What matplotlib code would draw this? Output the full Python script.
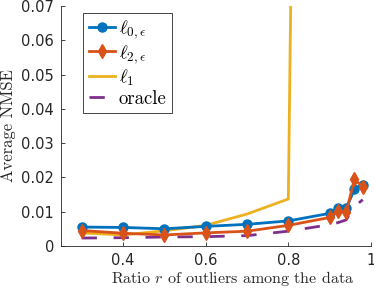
import matplotlib
matplotlib.use("Agg")
import matplotlib.pyplot as plt

plt.rcParams['mathtext.fontset'] = 'cm'
plt.rcParams['font.family'] = ['DejaVu Sans']

ratio = [0.3, 0.4, 0.5, 0.6, 0.7, 0.8, 0.9, 0.92, 0.94, 0.96, 0.98]
l0eps = [0.0055, 0.0054, 0.0050, 0.0057, 0.0063, 0.0073, 0.0095, 0.0110, 0.0110, 0.0165, 0.0178]
l2eps = [0.0045, 0.0037, 0.0032, 0.0038, 0.0043, 0.0060, 0.0083, 0.0102, 0.0098, 0.0195, 0.0172]
l1 = [0.0038, 0.0032, 0.0044, 0.0060, 0.0093, 0.0137, 1.0, 1.2, 1.5, 2.0, 2.5]
oracle = [0.0023, 0.0024, 0.0026, 0.0027, 0.0030, 0.0043, 0.0062, 0.0068, 0.0076, 0.0115, 0.0135]

yticks = [0, 0.01, 0.02, 0.03, 0.04, 0.05, 0.06, 0.07]
ytick_labels = ['0', '0.01', '0.02', '0.03', '0.04', '0.05', '0.06', '0.07']
xticks = [0.4, 0.6, 0.8, 1.0]
xtick_labels = ['0.4', '0.6', '0.8', '1']

c_blue = '#0072BD'
c_orange = '#D95319'
c_yellow = '#EDB120'
c_purple = '#7E2F8E'
dark = '#262626'

fig = plt.figure(figsize=(3.74, 2.90), dpi=100)
ax = fig.add_axes([0.163, 0.152, 0.829, 0.827])

ax.plot(ratio, l0eps, color=c_blue, lw=2, marker='o', ms=6.5, label=r'$\ell_{0,\epsilon}$', zorder=3)
ax.plot(ratio, l2eps, color=c_orange, lw=2, marker='d', ms=7.5, label=r'$\ell_{2,\epsilon}$', zorder=4)
ax.plot(ratio, l1, color=c_yellow, lw=2, label=r'$\ell_1$', zorder=2)
ax.plot(ratio, oracle, color=c_purple, lw=2, ls=(0, (5.5, 6)), label='oracle', zorder=1)

ax.set_xlim(0.25, 1.0)
ax.set_ylim(0, 0.07)
ax.set_xticks(xticks)
ax.set_xticklabels(xtick_labels)
ax.set_yticks(yticks)
ax.set_yticklabels(ytick_labels)

for s in ['top', 'right']:
    ax.spines[s].set_visible(False)
for s in ['left', 'bottom']:
    ax.spines[s].set_color(dark)
    ax.spines[s].set_linewidth(0.6)
ax.tick_params(direction='in', length=3, width=0.6, colors=dark, labelsize=10.5, pad=5)

ax.set_xlabel('Ratio $r$ of outliers among the data', fontsize=11.5, color=dark,
              family='cmr10')
ax.xaxis.set_label_coords(0.555, -0.095)
ax.set_ylabel('Average NMSE', fontsize=12, color=dark, labelpad=4, family='cmr10')

leg = ax.legend(loc='upper left', bbox_to_anchor=(0.071, 0.971),
                prop={'family': 'cmr10', 'size': 13.5},
                handlelength=1.4, handletextpad=0.2, borderpad=0.3, labelspacing=0.1,
                fancybox=False, framealpha=1, edgecolor=dark, borderaxespad=0)
leg.get_frame().set_linewidth(0.6)

fig.savefig('out.png', dpi=100)
